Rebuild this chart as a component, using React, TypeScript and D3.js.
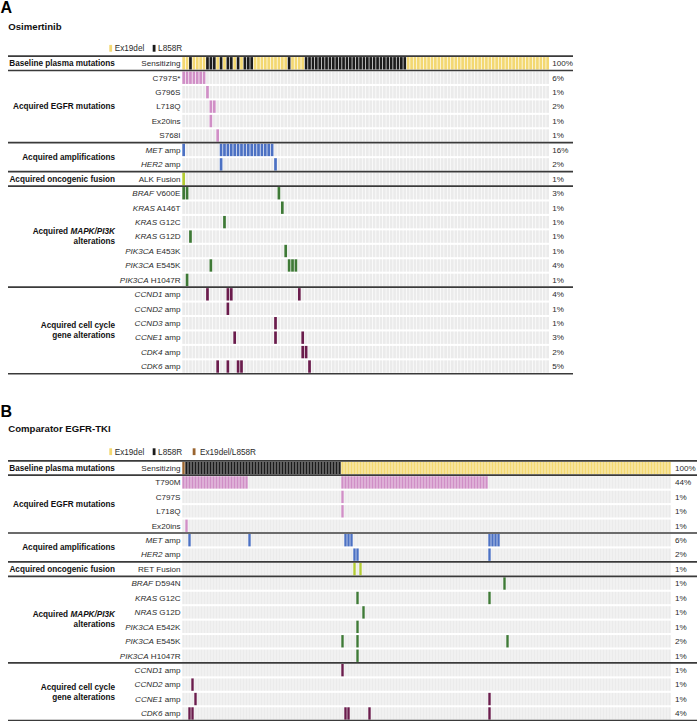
import React from "react";
import * as d3 from "d3";

const FONT = "'Liberation Sans', Arial, Helvetica, sans-serif";
const W = 698;
const H = 721;

// ---------------- Osimertinib (panel A) ----------------
const osiPatients = 108;
const osiLegend = ["Ex19del", "L858R"];
const osiBaseline: [string, number][] = [
  ["Ex19del", 2], ["L858R", 1], ["Ex19del", 4], ["L858R", 3], ["Ex19del", 1], ["L858R", 1],
  ["Ex19del", 1], ["L858R", 2], ["Ex19del", 1], ["L858R", 1], ["Ex19del", 1], ["L858R", 3],
  ["Ex19del", 10], ["L858R", 1], ["Ex19del", 4], ["L858R", 30], ["Ex19del", 42],
];
const osiGroupLabels: string[][] = [
  ["Acquired EGFR mutations"],
  ["Acquired amplifications"],
  ["Acquired oncogenic fusion"],
  ["Acquired _MAPK/PI3K_", "alterations"],
  ["Acquired cell cycle", "gene alterations"],
];
const osiGroupSizes = [5, 2, 1, 7, 6];
const osiRowLabels = [
  "C797S*", "G796S", "L718Q", "Ex20ins", "S768I",
  "_MET_ amp", "_HER2_ amp",
  "ALK Fusion",
  "_BRAF_ V600E", "_KRAS_ A146T", "_KRAS_ G12C", "_KRAS_ G12D", "_PIK3CA_ E453K", "_PIK3CA_ E545K", "_PIK3CA_ H1047R",
  "_CCND1_ amp", "_CCND2_ amp", "_CCND3_ amp", "_CCNE1_ amp", "_CDK4_ amp", "_CDK6_ amp",
];
// runs of [first patient column, count]
const osiHits: [number, number][][] = [
  [[0, 7]], [[7, 1]], [[8, 2]], [[8, 1]], [[10, 1]],
  [[0, 1], [11, 16]], [[11, 1], [27, 1]],
  [[0, 1]],
  [[0, 2], [28, 1]], [[29, 1]], [[12, 1]], [[2, 1]], [[30, 1]], [[8, 1], [31, 3]], [[1, 1]],
  [[7, 1], [13, 2], [34, 1]], [[13, 1]], [[27, 1]], [[15, 1], [27, 1], [35, 1]], [[35, 2]], [[10, 1], [13, 1], [16, 2], [37, 1]],
];
const osiPercent = [
  "100%", "6%", "1%", "2%", "1%", "1%", "16%", "2%", "1%", "3%", "1%", "1%", "1%", "1%", "4%", "1%",
  "4%", "1%", "1%", "3%", "2%", "5%",
];

// ---------------- Comparator EGFR-TKI (panel B) ----------------
const cmpPatients = 163;
const cmpLegend = ["Ex19del", "L858R", "Ex19del/L858R"];
const cmpBaseline: [string, number][] = [["Ex19del/L858R", 1], ["L858R", 52], ["Ex19del", 110]];
const cmpGroupLabels: string[][] = osiGroupLabels;
const cmpGroupSizes = [4, 2, 1, 6, 4];
const cmpRowLabels = [
  "T790M", "C797S", "L718Q", "Ex20ins",
  "_MET_ amp", "_HER2_ amp",
  "RET Fusion",
  "_BRAF_ D594N", "_KRAS_ G12C", "_NRAS_ G12D", "_PIK3CA_ E542K", "_PIK3CA_ E545K", "_PIK3CA_ H1047R",
  "_CCND1_ amp", "_CCND2_ amp", "_CCNE1_ amp", "_CDK6_ amp",
];
const cmpHits: [number, number][][] = [
  [[0, 22], [53, 49]], [[53, 1]], [[53, 1]], [[1, 1]],
  [[2, 1], [22, 1], [54, 3], [102, 4]], [[57, 2], [102, 1]],
  [[57, 1], [59, 1]],
  [[107, 1]], [[58, 1], [102, 1]], [[60, 1]], [[58, 1]], [[53, 1], [58, 1], [108, 1]], [[58, 1]],
  [[53, 1]], [[3, 1]], [[4, 1], [102, 1]], [[2, 2], [54, 2], [62, 1], [102, 1]],
];
const cmpPercent = [
  "100%", "44%", "1%", "1%", "1%", "6%", "2%", "1%", "1%", "1%", "1%", "1%", "2%", "1%", "1%", "1%", "1%", "4%",
];

// ---------------- styles ----------------
const groupKinds = ["egfr", "amp", "fusion", "mapk", "cycle"];
const COLORS: Record<string, string> = {
  Ex19del: "#f3d872",
  L858R: "#1b1b1b",
  "Ex19del/L858R": "#9a6530",
  egfr: "#d08fc6",
  amp: "#4c71c3",
  fusion: "#b3cb32",
  mapk: "#3e7936",
  cycle: "#6a1c4c",
  empty: "#ebebeb",
};
const PITCH = 14.44;
const CELL_H = 12.4;
const CELL_X0 = 182.3;
const LINE_X0 = 8;
const GROUP_X = 115;
const GENE_X = 180.5;
const TEXT = "#2b2b2b";

function parts(s: string) {
  return s
    .split("_")
    .map((t, i) => ({ t, it: i % 2 === 1 }))
    .filter((p) => p.t.length > 0);
}

function Rich(props: {
  x: number; y: number; text: string; anchor?: string; bold?: boolean; size: number; fill?: string;
}) {
  return (
    <text
      x={props.x}
      y={props.y}
      dy="0.35em"
      textAnchor={props.anchor || "start"}
      fontWeight={props.bold ? "bold" : "normal"}
      fontSize={props.size}
      fill={props.fill || TEXT}
      fontFamily={FONT}
    >
      {parts(props.text).map((p, i) => (
        <tspan key={i} fontStyle={p.it ? "italic" : "normal"}>
          {p.t}
        </tspan>
      ))}
    </text>
  );
}

interface Layout {
  letterY: number;
  titleY: number;
  legendY: number;
  y0: number;
  cellX1: number;
  pctX: number;
  lineX1: number;
}

function Panel(p: {
  letter: string;
  title: string;
  legend: string[];
  n: number;
  baseline: [string, number][];
  groupLabels: string[][];
  groupSizes: number[];
  rowLabels: string[];
  hits: [number, number][][];
  percent: string[];
  layout: Layout;
}) {
  const L = p.layout;
  const x = d3
    .scaleBand<number>()
    .domain(d3.range(p.n))
    .range([CELL_X0, L.cellX1])
    .paddingInner(0.2)
    .paddingOuter(0);
  const nRows = 1 + p.rowLabels.length;
  const y = d3
    .scaleLinear()
    .domain([0, nRows - 1])
    .range([L.y0, L.y0 + (nRows - 1) * PITCH]);

  const rowKind: string[] = [];
  const groupStart: number[] = [];
  let r = 1;
  p.groupSizes.forEach((g, gi) => {
    groupStart.push(r);
    for (let k = 0; k < g; k++) rowKind.push(groupKinds[gi]);
    r += g;
  });

  const baseCells: { col: number; kind: string }[] = [];
  let c = 0;
  p.baseline.forEach(([kind, cnt]) => {
    for (let j = 0; j < cnt; j++) baseCells.push({ col: c++, kind });
  });

  const seps: number[] = [y(0) - PITCH / 2, y(0) + PITCH / 2];
  p.groupSizes.forEach((g, gi) => {
    seps.push(y(groupStart[gi] + g - 1) + PITCH / 2);
  });

  const bw = x.bandwidth();
  const cols = d3.range(p.n);
  const legendX = [109.3, 152.7, 192.7];

  return (
    <g>
      <text x={0.5} y={L.letterY} fontFamily={FONT} fontWeight="bold" fontSize={16} fill="#000">
        {p.letter}
      </text>
      <text x={8.3} y={L.titleY} dy="0.35em" fontFamily={FONT} fontWeight="bold" fontSize={9.6} fill="#111">
        {p.title}
      </text>
      {p.legend.map((k, i) => (
        <g key={k}>
          <rect x={legendX[i]} y={L.legendY - 3.4} width={2.8} height={6.8} fill={COLORS[k]} />
          <text
            x={legendX[i] + (i === 2 ? 7.3 : 5.4)}
            y={L.legendY}
            dy="0.35em"
            fontFamily={FONT}
            fontSize={8.2}
            fill={TEXT}
          >
            {k}
          </text>
        </g>
      ))}

      {baseCells.map((d) => (
        <rect
          key={"b" + d.col}
          x={x(d.col)}
          y={y(0) - CELL_H / 2}
          width={bw}
          height={CELL_H}
          fill={COLORS[d.kind]}
        />
      ))}
      <Rich x={9.3} y={y(0)} text="Baseline plasma mutations" bold size={8.2} fill="#111" />
      <Rich x={GENE_X} y={y(0)} text="Sensitizing" anchor="end" size={8.1} />
      <Rich x={L.pctX} y={y(0)} text={p.percent[0]} size={8.1} />

      {p.rowLabels.map((lab, i) => {
        const row = i + 1;
        const hit = new Set<number>();
        p.hits[i].forEach(([s, n]) => {
          for (let j = 0; j < n; j++) hit.add(s + j);
        });
        return (
          <g key={lab}>
            {cols.map((col) => (
              <rect
                key={col}
                x={x(col)}
                y={y(row) - CELL_H / 2}
                width={bw}
                height={CELL_H}
                fill={hit.has(col) ? COLORS[rowKind[i]] : COLORS.empty}
              />
            ))}
            <Rich x={GENE_X} y={y(row)} text={lab} anchor="end" size={8.1} />
            <Rich x={L.pctX} y={y(row)} text={p.percent[row]} size={8.1} />
          </g>
        );
      })}

      {p.groupLabels.map((lines, gi) => {
        const mid = y(groupStart[gi] + (p.groupSizes[gi] - 1) / 2);
        return lines.map((ln, li) => (
          <Rich
            key={gi + "-" + li}
            x={GROUP_X}
            y={mid + (li - (lines.length - 1) / 2) * 10}
            text={ln}
            anchor="end"
            bold
            size={8.2}
            fill="#111"
          />
        ));
      })}

      {seps.map((s, i) => (
        <line key={"s" + i} x1={LINE_X0} x2={L.lineX1} y1={s} y2={s} stroke="#3a3a3a" strokeWidth={1.7} />
      ))}
    </g>
  );
}

export default function App() {
  return (
    <svg
      width={W}
      height={H}
      viewBox={`0 0 ${W} ${H}`}
      style={{ position: "absolute", left: 0, top: 0, background: "#fff" }}
    >
      <rect width={W} height={H} fill="#fff" />
      <Panel
        letter="A"
        title="Osimertinib"
        legend={osiLegend}
        n={osiPatients}
        baseline={osiBaseline}
        groupLabels={osiGroupLabels}
        groupSizes={osiGroupSizes}
        rowLabels={osiRowLabels}
        hits={osiHits}
        percent={osiPercent}
        layout={{ letterY: 13, titleY: 26.7, legendY: 48.3, y0: 63.3, cellX1: 549, pctX: 552.3, lineX1: 573 }}
      />
      <Panel
        letter="B"
        title="Comparator EGFR-TKI"
        legend={cmpLegend}
        n={cmpPatients}
        baseline={cmpBaseline}
        groupLabels={cmpGroupLabels}
        groupSizes={cmpGroupSizes}
        rowLabels={cmpRowLabels}
        hits={cmpHits}
        percent={cmpPercent}
        layout={{ letterY: 416.7, titleY: 428.3, legendY: 451.7, y0: 468, cellX1: 670.7, pctX: 675, lineX1: 697 }}
      />
    </svg>
  );
}
